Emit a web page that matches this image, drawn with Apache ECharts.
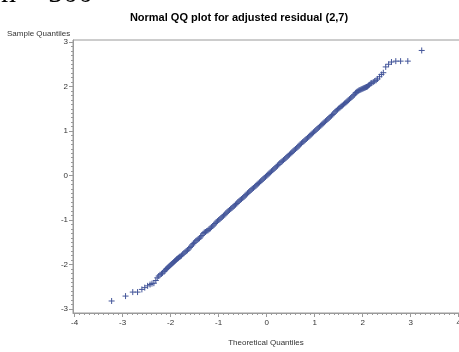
<!DOCTYPE html>
<html>
<head>
<meta charset="utf-8">
<script src="https://cdn.jsdelivr.net/npm/echarts@6/dist/echarts.min.js"></script>
<style>
  html, body { margin: 0; padding: 0; background: #fff; }
  #chart { width: 459px; height: 352px; }
</style>
</head>
<body>
<div id="chart"></div>
<script>
// Tick labels
const xTicks = [-4, -3, -2, -1, 0, 1, 2, 3, 4];
const yTicks = [-3, -2, -1, 0, 1, 2, 3];

// Lower tail: [theoretical quantile, sample quantile]
const lowerTail = [
  [-3.23, -2.82], [-2.94, -2.71], [-2.79, -2.62], [-2.69, -2.62], [-2.60, -2.56],
  [-2.54, -2.52], [-2.48, -2.48], [-2.43, -2.45], [-2.39, -2.43], [-2.35, -2.42],
  [-2.31, -2.36], [-2.28, -2.30], [-2.25, -2.26], [-2.22, -2.23], [-2.19, -2.21],
  [-2.17, -2.19], [-2.14, -2.16], [-2.12, -2.14], [-2.10, -2.11], [-2.08, -2.09],
  [-2.06, -2.07], [-2.04, -2.05], [-2.02, -2.03], [-2.00, -2.01], [-1.98, -1.99],
  [-1.96, -1.97], [-1.94, -1.95], [-1.92, -1.93], [-1.90, -1.91], [-1.88, -1.89],
  [-1.865, -1.875], [-1.85, -1.86], [-1.835, -1.85], [-1.82, -1.83]
];

// Central body of the residuals
const centralBody = [
  [-1.800, -1.82], [-1.775, -1.80], [-1.750, -1.77], [-1.725, -1.745], [-1.700, -1.72],
  [-1.675, -1.70], [-1.650, -1.68], [-1.625, -1.65], [-1.600, -1.62], [-1.575, -1.59],
  [-1.550, -1.56], [-1.525, -1.53], [-1.500, -1.50], [-1.475, -1.47], [-1.450, -1.45],
  [-1.425, -1.43], [-1.400, -1.41], [-1.375, -1.38], [-1.350, -1.35], [-1.325, -1.31],
  [-1.300, -1.28], [-1.275, -1.27], [-1.250, -1.25], [-1.225, -1.235], [-1.200, -1.21],
  [-1.175, -1.19], [-1.150, -1.16], [-1.125, -1.135], [-1.100, -1.11], [-1.075, -1.08],
  [-1.050, -1.05], [-1.025, -1.025], [-1.000, -1.00], [-0.975, -0.98], [-0.950, -0.955],
  [-0.925, -0.93], [-0.900, -0.905], [-0.875, -0.88], [-0.850, -0.85], [-0.825, -0.825],
  [-0.800, -0.80], [-0.775, -0.775], [-0.750, -0.75], [-0.725, -0.73], [-0.700, -0.705],
  [-0.675, -0.68], [-0.650, -0.655], [-0.625, -0.63], [-0.600, -0.60], [-0.575, -0.575],
  [-0.550, -0.55], [-0.525, -0.53], [-0.500, -0.505], [-0.475, -0.48], [-0.450, -0.455],
  [-0.425, -0.43], [-0.400, -0.40], [-0.375, -0.375], [-0.350, -0.35], [-0.325, -0.325],
  [-0.300, -0.30], [-0.275, -0.28], [-0.250, -0.255], [-0.225, -0.23], [-0.200, -0.205],
  [-0.175, -0.18], [-0.150, -0.155], [-0.125, -0.13], [-0.100, -0.105], [-0.075, -0.08],
  [-0.050, -0.055], [-0.025, -0.03], [0.000, -0.005], [0.025, 0.02], [0.050, 0.045],
  [0.075, 0.07], [0.100, 0.095], [0.125, 0.12], [0.150, 0.145], [0.175, 0.17],
  [0.200, 0.195], [0.225, 0.22], [0.250, 0.25], [0.275, 0.28], [0.300, 0.30],
  [0.325, 0.32], [0.350, 0.345], [0.375, 0.37], [0.400, 0.395], [0.425, 0.42],
  [0.450, 0.445], [0.475, 0.47], [0.500, 0.495], [0.525, 0.52], [0.550, 0.545],
  [0.575, 0.57], [0.600, 0.595], [0.625, 0.62], [0.650, 0.645], [0.675, 0.67],
  [0.700, 0.70], [0.725, 0.725], [0.750, 0.75], [0.775, 0.77], [0.800, 0.795],
  [0.825, 0.82], [0.850, 0.845], [0.875, 0.87], [0.900, 0.895], [0.925, 0.92],
  [0.950, 0.945], [0.975, 0.97], [1.000, 0.995], [1.025, 1.02], [1.050, 1.045],
  [1.075, 1.07], [1.100, 1.095], [1.125, 1.12], [1.150, 1.145], [1.175, 1.17],
  [1.200, 1.195], [1.225, 1.22], [1.250, 1.245], [1.275, 1.27], [1.300, 1.295],
  [1.325, 1.32], [1.350, 1.345], [1.375, 1.37], [1.400, 1.40], [1.425, 1.43],
  [1.450, 1.455], [1.475, 1.48], [1.500, 1.505], [1.525, 1.525], [1.550, 1.55],
  [1.575, 1.57], [1.600, 1.595], [1.625, 1.62], [1.650, 1.64], [1.675, 1.665],
  [1.700, 1.69], [1.725, 1.715], [1.750, 1.74], [1.775, 1.765], [1.800, 1.79],
  [1.825, 1.815]
];

// Upper tail
const upperTail = [
  [1.85, 1.85], [1.865, 1.865], [1.88, 1.88], [1.90, 1.895], [1.92, 1.91],
  [1.94, 1.92], [1.96, 1.93], [1.98, 1.94], [2.00, 1.95], [2.02, 1.96],
  [2.04, 1.97], [2.06, 1.98], [2.08, 1.99], [2.10, 2.00], [2.12, 2.02],
  [2.14, 2.04], [2.17, 2.07], [2.19, 2.08], [2.22, 2.10], [2.25, 2.12],
  [2.28, 2.14], [2.31, 2.17], [2.35, 2.22], [2.39, 2.27], [2.43, 2.31],
  [2.48, 2.44], [2.54, 2.50], [2.60, 2.55], [2.69, 2.57], [2.79, 2.57],
  [2.94, 2.57], [3.23, 2.81]
];

const points = lowerTail.concat(centralBody, upperTail);

const axisGray = '#9a9a9a';
const labelColor = '#333';
const labelFont = 'Liberation Sans, Arial, sans-serif';

// Minor tick positions every 0.1
function steps(a, b) {
  const out = [];
  for (let i = Math.round(a * 10); i <= Math.round(b * 10); i++) out.push(i / 10);
  return out;
}

// Plot area runs past the right edge of the canvas
const GRID_W = 416;
const X_MIN = -4.035, X_MAX = X_MIN + GRID_W / 48;
const Y_MIN = -3.09, Y_MAX = 3.045;

const chart = echarts.init(document.getElementById('chart'), null, { renderer: 'canvas' });

chart.setOption({
  animation: false,
  backgroundColor: '#fff',
  title: {
    text: 'Normal QQ plot for adjusted residual (2,7)',
    left: 234, top: 7, textAlign: 'center',
    textStyle: { fontFamily: labelFont, fontSize: 11, fontWeight: 'bold', color: '#000' }
  },
  graphic: [
    { type: 'text', x: 7, y: 30,
      style: { text: 'Sample Quantiles', font: '8px ' + labelFont, fill: labelColor } },
    { type: 'text', x: 266, y: 339,
      style: { text: 'Theoretical Quantiles', font: '8px ' + labelFont, fill: labelColor, align: 'center' } },
    { type: 'text', x: 1, y: 9,
      style: { text: 'n = 500', font: '30px "Liberation Serif", serif', fill: '#000', verticalAlign: 'bottom' } }
  ],
  grid: {
    left: 73, top: 40, width: GRID_W, bottom: 39,
    outerBoundsMode: 'none', containLabel: false,
    show: true, borderColor: axisGray, borderWidth: 1, backgroundColor: 'transparent'
  },
  xAxis: [
    {
      type: 'value', min: X_MIN, max: X_MAX, position: 'bottom',
      axisLine: { show: true, onZero: false, lineStyle: { color: axisGray } },
      axisTick: { show: true, customValues: xTicks, length: 4, lineStyle: { color: axisGray } },
      axisLabel: { show: true, customValues: xTicks, margin: 6, fontSize: 8, fontFamily: labelFont, color: labelColor },
      splitLine: { show: false }
    },
    {
      type: 'value', min: X_MIN, max: X_MAX, position: 'bottom', gridIndex: 0,
      axisLine: { show: false, onZero: false },
      axisTick: { show: true, customValues: steps(-4, 4.6), length: 2, lineStyle: { color: axisGray } },
      axisLabel: { show: false },
      splitLine: { show: false }
    }
  ],
  yAxis: [
    {
      type: 'value', min: Y_MIN, max: Y_MAX, position: 'left',
      axisLine: { show: true, onZero: false, lineStyle: { color: axisGray } },
      axisTick: { show: true, customValues: yTicks, length: 4, lineStyle: { color: axisGray } },
      axisLabel: { show: true, customValues: yTicks, margin: 5, fontSize: 8, fontFamily: labelFont, color: labelColor },
      splitLine: { show: false }
    },
    {
      type: 'value', min: Y_MIN, max: Y_MAX, position: 'left', gridIndex: 0,
      axisLine: { show: false, onZero: false },
      axisTick: { show: true, customValues: steps(-3, 3), length: 2, lineStyle: { color: axisGray } },
      axisLabel: { show: false },
      splitLine: { show: false }
    }
  ],
  series: [{
    type: 'scatter',
    xAxisIndex: 0, yAxisIndex: 0,
    data: points,
    symbol: 'path://M0,5L10,5M5,0L5,10',
    symbolSize: 6,
    itemStyle: { color: 'none', borderColor: '#44569a', borderWidth: 1, opacity: 1 },
    silent: true
  }]
});
</script>
</body>
</html>
